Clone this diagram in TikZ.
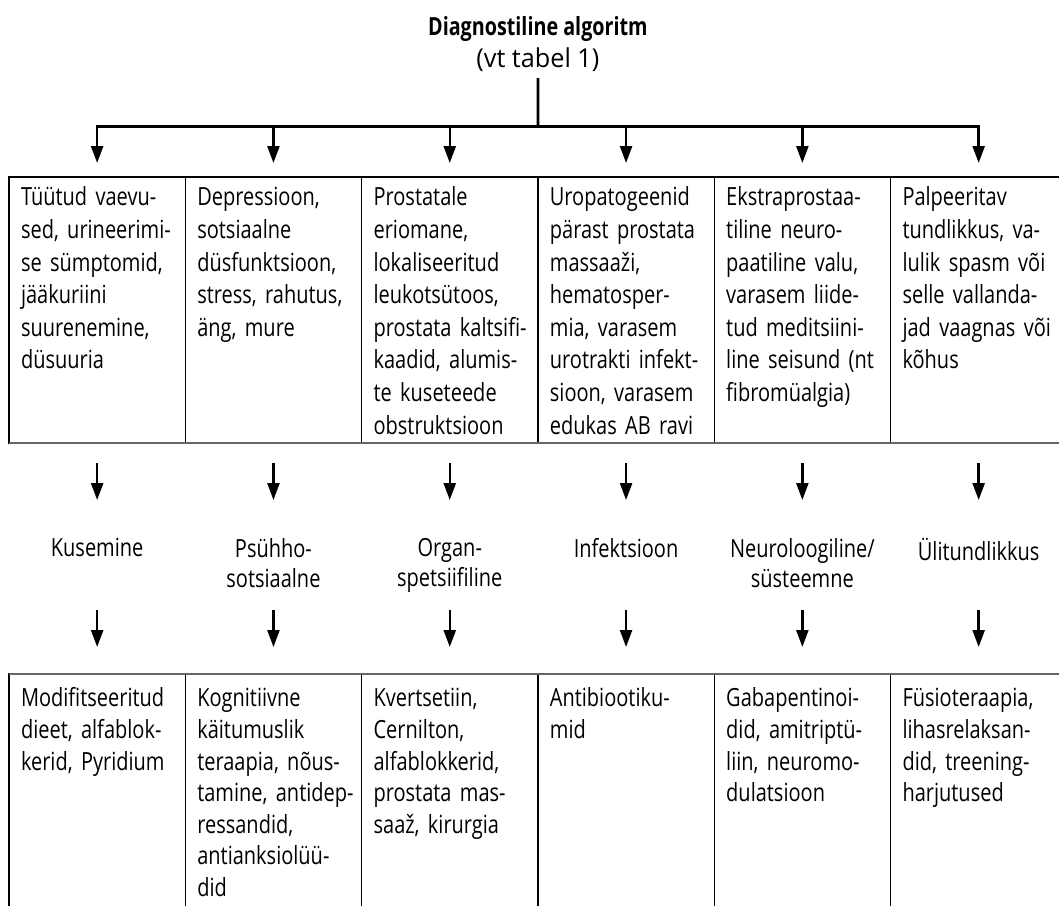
\documentclass[tikz,border=0pt]{standalone}
\usepackage{fontspec}
\setmainfont{Open Sans}[FakeStretch = 0.8, WordSpace = 0.75]
\newfontfamily\pealkirjafont{Open Sans}[FakeStretch = 0.97, BoldFeatures = {FakeStretch = 0.79}]
\usepackage{tikz}
\usetikzlibrary{positioning, arrows.meta}
\newcommand{\lahter}[2]{\hbox to \hsize{\vbox to #1{\hsize = 150pt \noindent\strut #2\vfil}\hss}}
\tikzstyle{tunnus} = [
    rectangle,
    draw = black,
    line width = 0.6pt,
    outer sep = 0pt,
    anchor = north,
    text width = 76.15pt,
    minimum width = 88.15pt,
    inner xsep = 6pt,
    inner ysep = 3pt,
    align = left,
    font = \fontsize{12.5}{16.3}\selectfont,
]
\tikzstyle{ravi} = [tunnus, inner ysep = 5.4pt, font = \fontsize{12.5}{15.8}\selectfont]
\tikzstyle{valdkond} = [anchor = north, align = center, font = \fontsize{12.5}{15}\selectfont]
\tikzstyle{nool} = [-{Triangle[length = 8.5pt, width = 6pt]}, line width = 1.2pt]

\begin{document}
\begin{tikzpicture} [x = 0.5pt, y = -0.5pt]
    \useasboundingbox (0, 0) rectangle (1059, 905);

    \node (Pealkiri) [anchor = base, font = \pealkirjafont\fontsize{12.5}{16}\selectfont\bfseries] at (537.9, 35) {Diagnostiline algoritm};
    \node (Viide) [anchor = base, font = \pealkirjafont\fontsize{13}{16}\selectfont] at (537.9, 67) {(vt tabel 1)};

    \node (Tunnus1) [tunnus] at (97.15, 177) {\lahter{127pt}{Tüütud vaevu-\\sed, urineerimi-\\se sümptomid,\\jääkuriini\\suurenemine,\\düsuuria}};
    \node (Tunnus2) [tunnus, right = 0pt of Tunnus1] {\lahter{127pt}{Depressioon,\\sotsiaalne\\düsfunktsioon,\\stress, rahutus,\\äng, mure}};
    \node (Tunnus3) [tunnus, right = 0pt of Tunnus2] {\lahter{127pt}{Prostatale\\eriomane,\\lokaliseeritud\\leukotsütoos,\\prostata kaltsifi-\\kaadid, alumis-\\te kuseteede\\obstruktsioon}};
    \node (Tunnus4) [tunnus, right = 0pt of Tunnus3] {\lahter{127pt}{Uropatogeenid\\pärast prostata\\massaaži,\\hematosper-\\mia, varasem\\urotrakti infekt-\\sioon, varasem\\edukas AB ravi}};
    \node (Tunnus5) [tunnus, right = 0pt of Tunnus4] {\lahter{127pt}{Ekstraprostaa-\\tiline neuro-\\paatiline valu,\\varasem liide-\\tud meditsiini-\\line seisund (nt\\fibromüalgia)}};
    \node (Tunnus6) [tunnus, right = 0pt of Tunnus5] {\lahter{127pt}{Palpeeritav\\tundlikkus, va-\\lulik spasm või\\selle vallanda-\\jad vaagnas või\\kõhus}};
    \draw[gray!80!black, line width = 1pt] (Tunnus1.south west) -- (Tunnus6.south east);

    \coordinate (Haru) at ([yshift = 25.5pt] Tunnus3.north east);
    \draw[line width = 1.4pt] (Viide) -- (Haru);
    \draw[line width = 1.5pt, line cap = rect] (Tunnus1.north |- Haru) -- (Tunnus6.north |- Haru);

    \node (Valdkond1) [valdkond, below = 44pt of Tunnus1] {Kusemine};
    \node (Valdkond2) [valdkond, below = 44pt of Tunnus2] {Psühho-\\sotsiaalne};
    \node (Valdkond3) [valdkond, below = 44pt of Tunnus3] {Organ-\\spetsiifiline};
    \node (Valdkond4) [valdkond, below = 44pt of Tunnus4] {Infektsioon};
    \node (Valdkond5) [valdkond, below = 44pt of Tunnus5] {Neuroloogiline/\\süsteemne};
    \node (Valdkond6) [valdkond, below = 44pt of Tunnus6] {Ülitundlikkus};

    \node (Ravi1) [ravi, below = 115.5pt of Tunnus1] {\lahter{130pt}{Modifitseeritud\\dieet, alfablok-\\kerid, Pyridium}};
    \node (Ravi2) [ravi, right = 0pt of Ravi1] {\lahter{130pt}{Kognitiivne\\käitumuslik\\teraapia, nõus-\\tamine, antidep-\\ressandid,\\antianksiolüü-\\did}};
    \node (Ravi3) [ravi, right = 0pt of Ravi2] {\lahter{130pt}{Kvertsetiin,\\Cernilton,\\alfablokkerid,\\prostata mas-\\saaž, kirurgia}};
    \node (Ravi4) [ravi, right = 0pt of Ravi3] {\lahter{130pt}{Antibiootiku-\\mid}};
    \node (Ravi5) [ravi, right = 0pt of Ravi4] {\lahter{130pt}{Gabapentinoi-\\did, amitriptü-\\liin, neuromo-\\dulatsioon}};
    \node (Ravi6) [ravi, right = 0pt of Ravi5] {\lahter{130pt}{Füsioteraapia,\\lihasrelaksan-\\did, treening-\\harjutused}};
    \draw[gray!80!black, line width = 1pt] (Ravi1.north west) -- (Ravi6.north east);

    % harust tunnusteni
    \draw[nool, shorten > = 7pt] (Tunnus1.north |- Haru) -- (Tunnus1.north);
    \draw[nool, shorten > = 7pt] (Tunnus2.north |- Haru) -- (Tunnus2.north);
    \draw[nool, shorten > = 7pt] (Tunnus3.north |- Haru) -- (Tunnus3.north);
    \draw[nool, shorten > = 7pt] (Tunnus4.north |- Haru) -- (Tunnus4.north);
    \draw[nool, shorten > = 7pt] (Tunnus5.north |- Haru) -- (Tunnus5.north);
    \draw[nool, shorten > = 7pt] (Tunnus6.north |- Haru) -- (Tunnus6.north);

    % tunnustest valdkondadeni
    \draw[nool, shorten < = 10pt, shorten > = 15.5pt] (Tunnus1) -- (Valdkond1);
    \draw[nool, shorten < = 10pt, shorten > = 15.5pt] (Tunnus2) -- (Valdkond2);
    \draw[nool, shorten < = 10pt, shorten > = 15.5pt] (Tunnus3) -- (Valdkond3);
    \draw[nool, shorten < = 10pt, shorten > = 15.5pt] (Tunnus4) -- (Valdkond4);
    \draw[nool, shorten < = 10pt, shorten > = 15.5pt] (Tunnus5) -- (Valdkond5);
    \draw[nool, shorten < = 10pt, shorten > = 15.5pt] (Tunnus6) -- (Valdkond6);

    % valdkondadest ravini
    \draw[nool, shorten < = 39.5pt, shorten > = 13.5pt] (Valdkond1.north) -- (Ravi1);
    \draw[nool, shorten < = 39.5pt, shorten > = 13.5pt] (Valdkond2.north) -- (Ravi2);
    \draw[nool, shorten < = 39.5pt, shorten > = 13.5pt] (Valdkond3.north) -- (Ravi3);
    \draw[nool, shorten < = 39.5pt, shorten > = 13.5pt] (Valdkond4.north) -- (Ravi4);
    \draw[nool, shorten < = 39.5pt, shorten > = 13.5pt] (Valdkond5.north) -- (Ravi5);
    \draw[nool, shorten < = 39.5pt, shorten > = 13.5pt] (Valdkond6.north) -- (Ravi6);
\end{tikzpicture}
\end{document}
